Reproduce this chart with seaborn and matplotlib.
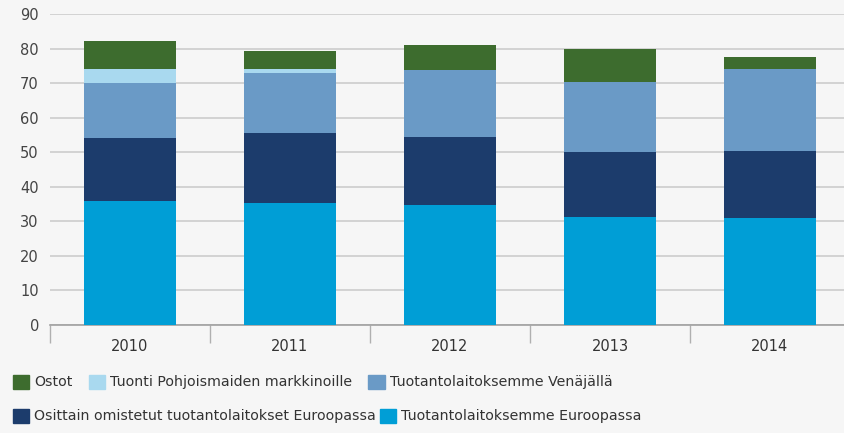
import numpy as np
import matplotlib
matplotlib.use('Agg')
import matplotlib.pyplot as plt
import seaborn as sns
from matplotlib.patches import Patch

# values
years = ['2010', '2011', '2012', '2013', '2014']
euroopassa = [35.8, 35.2, 34.7, 31.2, 31.1]
osittain = [18.2, 20.4, 19.6, 18.8, 19.2]
venajalla = [16.1, 17.4, 19.5, 20.2, 23.7]
tuonti = [3.9, 1.0, 0.0, 0.0, 0.0]
ostot = [8.3, 5.4, 7.1, 9.7, 3.5]

series_names = ['Tuotantolaitoksemme Euroopassa',
                'Osittain omistetut tuotantolaitokset Euroopassa',
                'Tuotantolaitoksemme Venäjällä',
                'Tuonti Pohjoismaiden markkinoille',
                'Ostot']
series_values = [euroopassa, osittain, venajalla, tuonti, ostot]
colors = ['#009ed6', '#1c3c6c', '#6a9ac6', '#a9d9ef', '#3d6c2e']

sns.set_style('white')
plt.rcParams['font.family'] = ['Liberation Sans Narrow', 'DejaVu Sans']

fig = plt.figure(figsize=(8.45, 4.33), dpi=100)
fig.patch.set_facecolor('#f6f6f6')
ax = fig.add_axes([50 / 845, (433 - 325) / 433, 800 / 845, (325 - 14) / 433])
ax.set_facecolor('#f6f6f6')

bottom = np.zeros(len(years))
for name, vals, c in zip(series_names, series_values, colors):
    sns.barplot(x=years, y=vals, bottom=bottom, color=c, width=0.58,
                ax=ax, zorder=3, saturation=1, linewidth=0, edgecolor='none')
    bottom += np.array(vals)

ax.set_ylim(0, 90)
ax.set_xlim(-0.5, 4.5)
ax.set_yticks(range(0, 91, 10))
ax.yaxis.grid(True, color='#cccccc', linewidth=1.2, zorder=0)
ax.set_axisbelow(True)
for s in ['top', 'right', 'left']:
    ax.spines[s].set_visible(False)
ax.spines['bottom'].set_color('#a0a0a0')
ax.spines['bottom'].set_linewidth(1.2)

ax.set_xticks(np.arange(-0.5, 5, 1), minor=True)
ax.tick_params(axis='x', which='major', bottom=False, length=0, pad=10,
               labelsize=10.5, labelcolor='#333333')
ax.tick_params(axis='x', which='minor', bottom=True, length=13, color='#b0b0b0', width=1)
ax.tick_params(axis='y', length=0, pad=8, labelsize=10.5, labelcolor='#444444')
ax.set_xlabel('')
ax.set_ylabel('')

# legend in two rows like the reference
row1 = [4, 3, 2]
row2 = [1, 0]
kw = dict(frameon=False, handlelength=1.15, handleheight=1.15, handletextpad=0.35,
          columnspacing=1.15, fontsize=10.2, labelcolor='#333333', borderaxespad=0)
fig.legend([Patch(color=colors[i]) for i in row1], [series_names[i] for i in row1],
           ncol=3, loc='center left', bbox_to_anchor=(7 / 845, 1 - 382 / 433), **kw)
fig.legend([Patch(color=colors[i]) for i in row2], [series_names[i] for i in row2],
           ncol=2, loc='center left', bbox_to_anchor=(7 / 845, 1 - 416 / 433),
           **{**kw, 'columnspacing': 0.3})

fig.savefig('out.png', dpi=100, facecolor=fig.get_facecolor())
